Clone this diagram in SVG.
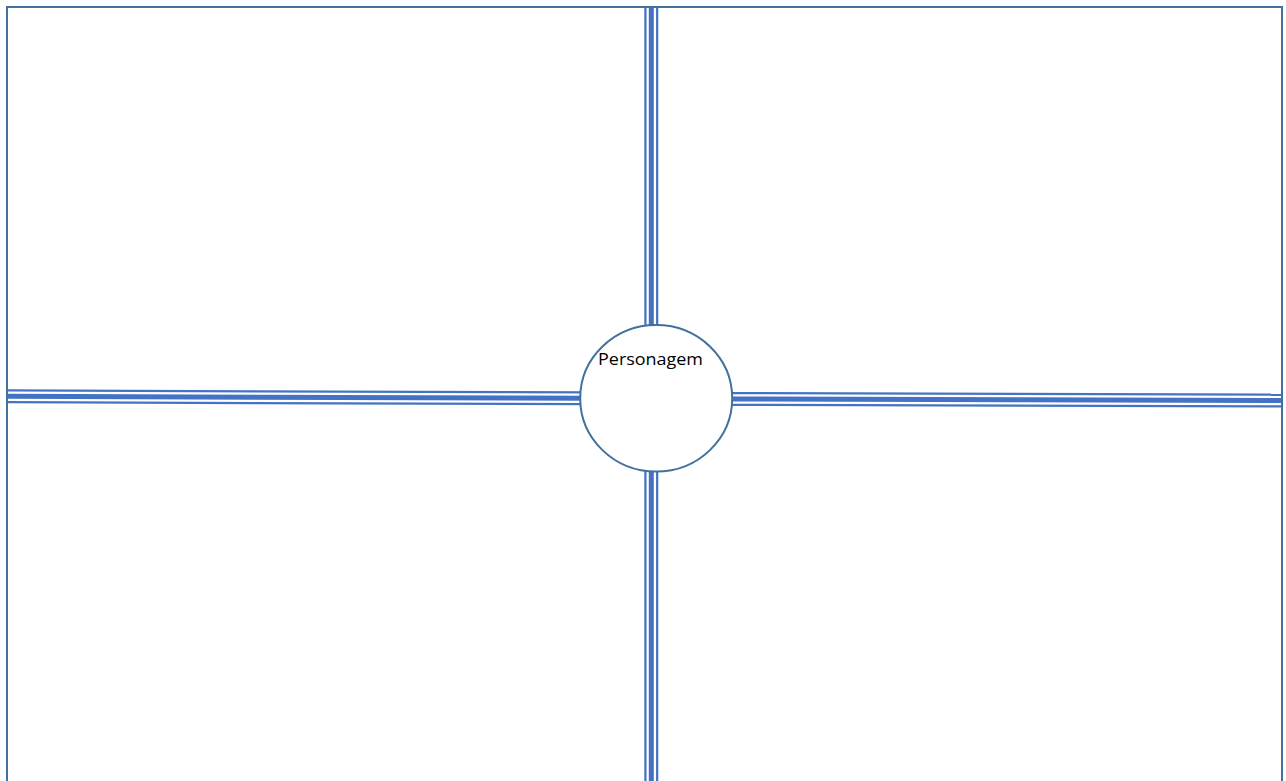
<svg xmlns="http://www.w3.org/2000/svg" width="1286" height="781" viewBox="0 0 1286 781">
<style>
.frame{fill:#fff;stroke:#41719C;stroke-width:2}
.outer{stroke:#4472C4;stroke-width:14;fill:none}
.gap{stroke:#fff;stroke-width:9.5;fill:none}
.inner{stroke:#4472C4;stroke-width:5;fill:none}
.node{fill:#fff;stroke:#41719C;stroke-width:2}
.lbl{font-family:"Open Sans","Liberation Sans",sans-serif;font-size:16px;fill:#000}
</style>
<rect width="1286" height="781" fill="#fff"/>
<rect id="frame" class="frame" x="7" y="7" width="1275" height="790"/>
<g id="connectors">
<g><line class="outer" x1="651.3" y1="8" x2="651.3" y2="330"/><line class="gap" x1="651.3" y1="8" x2="651.3" y2="330"/><line class="inner" x1="651.3" y1="8" x2="651.3" y2="330"/></g>
<g><line class="outer" x1="651.3" y1="466" x2="651.3" y2="781"/><line class="gap" x1="651.3" y1="466" x2="651.3" y2="781"/><line class="inner" x1="651.3" y1="466" x2="651.3" y2="781"/></g>
<g><line class="outer" x1="8" y1="396.3" x2="586" y2="398.3"/><line class="gap" x1="8" y1="396.3" x2="586" y2="398.3"/><line class="inner" x1="8" y1="396.3" x2="586" y2="398.3"/></g>
<g><line class="outer" x1="727" y1="399" x2="1281" y2="400.5"/><line class="gap" x1="727" y1="399" x2="1281" y2="400.5"/><line class="inner" x1="727" y1="399" x2="1281" y2="400.5"/></g>
</g>
<g id="personagem">
<ellipse class="node" cx="656.2" cy="398.3" rx="76" ry="73.3"/>
<text class="lbl" x="598" y="365" textLength="105" lengthAdjust="spacingAndGlyphs">Personagem</text>
</g>
</svg>
